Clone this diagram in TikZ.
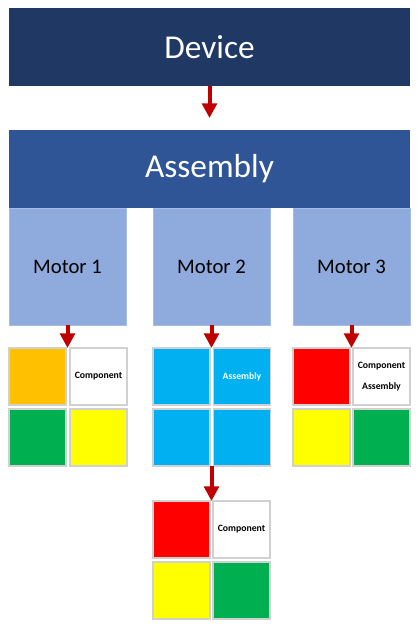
\documentclass[tikz,border=0pt]{standalone}
\usepackage{fontspec}
\setmainfont{Carlito}
\usetikzlibrary{arrows.meta}
\definecolor{devblue}{HTML}{203864}
\definecolor{asmblue}{HTML}{2F5597}
\definecolor{motblue}{HTML}{8FAADC}
\definecolor{arrred}{HTML}{C00000}
\definecolor{cellgray}{HTML}{D0D0D0}
\definecolor{corange}{HTML}{FFC000}
\definecolor{cgreen}{HTML}{00B050}
\definecolor{cyellow}{HTML}{FFFF00}
\definecolor{cblue}{HTML}{00B0F0}
\definecolor{cred}{HTML}{FF0000}
\begin{document}
\begin{tikzpicture}[x=0.75pt, y=-0.75pt,
	banner/.style={inner sep=0pt, outer sep=0pt, minimum width=300.75pt, minimum height=58.5pt,
		text=white, font=\fontsize{25}{30}\selectfont},
	motor/.style={fill=motblue, draw=motblue!80!white, line width=0.6pt, inner sep=0pt, outer sep=0pt,
		minimum size=87.75pt, font=\fontsize{15.5}{18}\selectfont},
	cell/.style={draw=cellgray, line width=0.9pt, inner sep=0pt, outer sep=0pt, minimum size=42.75pt,
		font=\fontsize{7.3}{16}\selectfont\bfseries, align=center},
	arr/.style={arrred, line width=3pt, -{Triangle[width=11pt, length=11pt]}}]
	\useasboundingbox (0,0) rectangle (419,626);
	\node[banner, fill=devblue] (dev) at (209.5, 47) {Device};
	\node[banner, fill=asmblue] (asm) at (209.5, 169) {Assembly};
	\node[motor] (m1) at (67.5, 266.5) {Motor 1};
	\node[motor] (m2) at (211.5, 266.5) {Motor 2};
	\node[motor] (m3) at (351.5, 266.5) {Motor 3};
	% motor 1 parts
	\node[cell, fill=corange] (c1a) at (37.5, 376.5) {};
	\node[cell, fill=white] (c1b) at (98.5, 376.5) {Component};
	\node[cell, fill=cgreen] (c1c) at (37.5, 437.5) {};
	\node[cell, fill=cyellow] (c1d) at (98.5, 437.5) {};
	% motor 2 parts
	\node[cell, fill=cblue] (c2a) at (181.5, 376.5) {};
	\node[cell, fill=cblue, text=white] (c2b) at (242, 376.5) {Assembly};
	\node[cell, fill=cblue] (c2c) at (181.5, 437.5) {};
	\node[cell, fill=cblue] (c2d) at (242, 437.5) {};
	% motor 3 parts
	\node[cell, fill=cred] (c3a) at (321.5, 376.5) {};
	\node[cell, fill=white] (c3b) at (381.5, 376.5) {Component\\Assembly};
	\node[cell, fill=cyellow] (c3c) at (321.5, 437.5) {};
	\node[cell, fill=cgreen] (c3d) at (381.5, 437.5) {};
	% sub assembly parts
	\node[cell, fill=cred] (b1) at (181.5, 529.5) {};
	\node[cell, fill=white] (b2) at (241.5, 529.5) {Component};
	\node[cell, fill=cyellow] (b3) at (181.5, 590.5) {};
	\node[cell, fill=cgreen] (b4) at (241.5, 590.5) {};
	\draw[arr, shorten >=9pt] (dev) to (asm);
	\draw[arr] (m1.south) to (m1.south |- c1a.north);
	\draw[arr] (m2.south) to (m2.south |- c2a.north);
	\draw[arr] (m3.south) to (m3.south |- c3a.north);
	\draw[arr] (m2.south |- c2c.south) to (m2.south |- b1.north);
\end{tikzpicture}
\end{document}
